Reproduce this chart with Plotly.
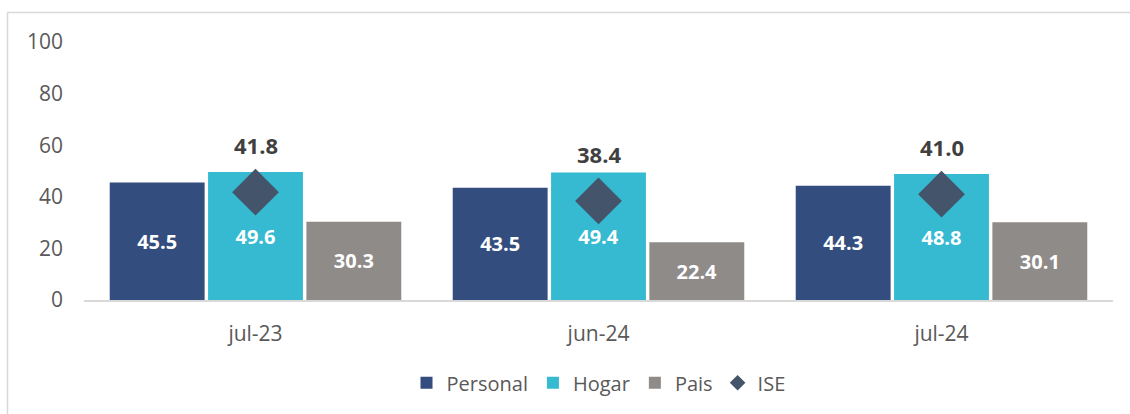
import plotly.graph_objects as go

categories = ["jul-23", "jun-24", "jul-24"]
personal = [45.5, 43.5, 44.3]
hogar = [49.6, 49.4, 48.8]
pais = [30.3, 22.4, 30.1]
ise = [41.8, 38.4, 41.0]
y_ticks = [0, 20, 40, 60, 80, 100]

FONT = "Open Sans"
L, R, T, B = 84, 17, 42, 114
W, H = 1130, 414

fig = go.Figure()
for name, vals, col in [("Personal", personal, "#334D7E"),
                        ("Hogar", hogar, "#35BAD2"),
                        ("Pais", pais, "#8F8B89")]:
    fig.add_trace(go.Bar(
        name=name, x=categories, y=vals, marker_color=col,
        marker_line_width=0,
        text=[f"{v:.1f}" for v in vals], textposition="inside",
        insidetextanchor="middle", textangle=0,
        textfont=dict(family=FONT, size=20, color="white", weight="bold"),
        hoverinfo="skip"))

fig.add_trace(go.Scatter(
    name="ISE", x=categories, y=ise, mode="markers",
    marker=dict(symbol="diamond", size=36, color="#44546A"),
    hoverinfo="skip"))

for c, v in zip(categories, ise):
    fig.add_annotation(x=c, y=v, text=f"<b>{v:.1f}</b>", showarrow=False,
                       yshift=47, font=dict(family=FONT, size=22, color="#404040"))

pw = W - L - R
ph = H - T - B
fig.add_shape(type="rect", xref="paper", yref="paper",
              x0=(7.5 - L) / pw, x1=(W + 5 - L) / pw,
              y0=-(H + 5 - (H - B)) / ph, y1=((H - B) - 12.5) / ph,
              line=dict(color="#D9D9D9", width=1.5), layer="below")

fig.update_layout(
    width=W, height=H, barmode="group", bargap=0.14, bargroupgap=0.035,
    margin=dict(l=L, r=R, t=T, b=B),
    paper_bgcolor="white", plot_bgcolor="white",
    font=dict(family=FONT, size=20, color="#595959"),
    showlegend=True,
    legend=dict(orientation="h", x=0.5, xanchor="center", y=-0.245, yanchor="top",
                font=dict(family=FONT, size=20, color="#595959"),
                itemsizing="constant", traceorder="normal"),
    yaxis=dict(range=[0, 100], tickvals=y_ticks, showgrid=False, zeroline=False,
               showline=False, ticks="", ticklabelstandoff=20,
               tickfont=dict(family=FONT, size=21, color="#595959")),
    xaxis=dict(showgrid=False, showline=True, linecolor="#D9D9D9", linewidth=1.5,
               ticks="", ticklabelstandoff=14,
               tickfont=dict(family=FONT, size=21, color="#595959")),
)

fig.write_html("out.html", config={"displayModeBar": False},
               post_script="document.body.style.margin='0';document.body.style.overflow='hidden';")
